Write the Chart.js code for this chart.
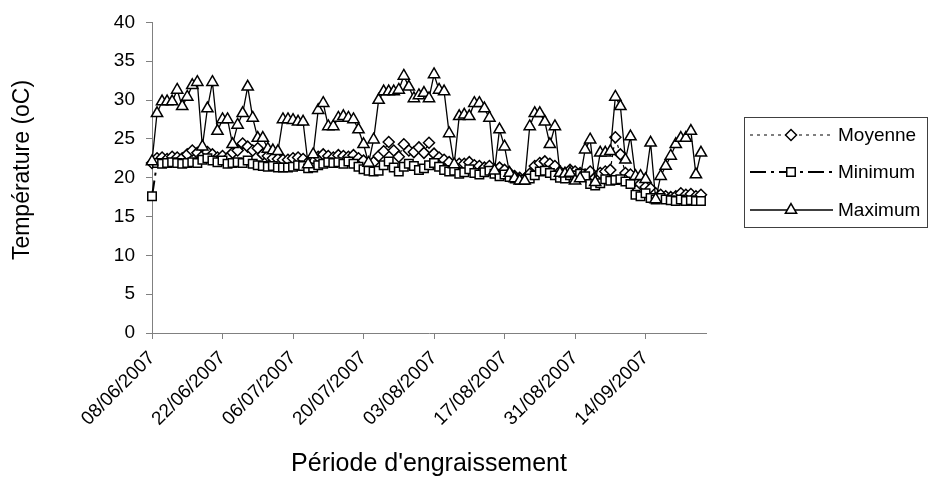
<!DOCTYPE html>
<html>
<head>
<meta charset="utf-8">
<title>Température - période d'engraissement</title>
<script src="https://cdn.jsdelivr.net/npm/chart.js@4.4.1/dist/chart.umd.min.js"></script>
<style>
    html, body { margin: 0; padding: 0; background: #ffffff; }
    #wrap { width: 930px; height: 479px; }
</style>
</head>
<body>
<div id="wrap"><canvas id="tempChart" width="930" height="479"></canvas></div>
<script>

// Days since 08/06/2007 on the x axis, tick every 14 days
const tickLabels = ["08/06/2007", "22/06/2007", "06/07/2007", "20/07/2007",
    "03/08/2007", "17/08/2007", "31/08/2007", "14/09/2007"];
const tickStep = 14;
const lastDay = 110;

const moyenne = [
    21.9, 22.5, 22.6, 22.4, 22.7, 22.6, 22.5, 23.0, 23.5, 23.2,
    22.8, 23.3, 23.0, 22.6, 22.8, 22.5, 23.2, 23.5, 24.4, 24.0,
    23.5, 23.8, 23.0, 22.8, 22.5, 22.4, 22.3, 22.3, 22.5, 22.6,
    22.4, 22.0, 22.3, 22.7, 23.0, 22.8, 22.6, 22.9, 22.8, 22.7,
    22.9, 22.5, 22.2, 21.6, 22.0, 22.8, 23.4, 24.6, 23.5, 22.7,
    24.3, 23.5, 23.3, 23.9, 23.2, 24.5, 23.1, 22.6, 22.3, 22.0,
    21.3, 21.8, 21.8, 22.0, 21.6, 21.5, 21.3, 21.5, 21.0, 21.3,
    21.0, 20.6, 20.2, 20.0, 19.9, 20.5, 21.5, 21.9, 22.1, 21.8,
    21.5, 20.8, 20.6, 21.0, 20.8, 20.6, 20.4, 20.8, 20.0, 20.6,
    20.8, 21.0, 25.2, 23.0, 20.6, 20.4, 19.6, 19.2, 18.8, 18.6,
    18.0, 17.8, 17.6, 17.5, 17.6, 18.0, 17.8, 17.9, 17.6, 17.8
];

const minimum = [
    17.6, 21.9, 21.8, 21.9, 22.0, 21.9, 21.8, 21.9, 22.0, 21.9,
    22.3, 22.5, 22.2, 22.0, 22.2, 21.8, 21.9, 22.0, 21.9, 22.2,
    21.8, 21.6, 21.5, 21.4, 21.5, 21.3, 21.3, 21.3, 21.4, 21.6,
    21.5, 21.2, 21.3, 21.6, 21.8, 22.0, 21.9, 22.0, 21.8, 22.1,
    21.8, 21.4, 21.1, 20.9, 20.8, 20.9, 21.6, 22.1, 21.3, 20.8,
    21.4, 21.8, 21.5, 21.0, 21.2, 21.6, 21.9, 21.4, 21.0, 20.8,
    20.9, 20.5, 20.7, 21.1, 20.6, 20.4, 20.7, 20.9, 20.5, 20.2,
    20.4, 20.1, 19.9, 19.7, 19.7, 19.9, 20.3, 20.8, 20.9, 20.6,
    20.3, 20.0, 19.9, 20.3, 20.3, 20.5, 20.2, 19.2, 19.0, 19.3,
    19.8, 19.6, 19.7, 19.8, 19.5, 19.2, 17.8, 17.6, 18.0, 17.4,
    17.2, 17.4, 17.2, 17.1, 17.0, 17.2, 17.0, 17.1, 17.0, 17.0
];

const maximum = [
    22.1, 28.3, 29.8, 29.8, 29.8, 31.3, 29.2, 30.4, 31.9, 32.3,
    24.0, 28.9, 32.3, 26.0, 27.5, 27.5, 24.3, 26.8, 28.3, 31.7,
    27.7, 25.1, 25.1, 23.7, 23.5, 23.4, 27.5, 27.5, 27.4, 27.2,
    27.2, 21.7, 23.0, 28.7, 29.6, 26.6, 26.6, 27.7, 27.9, 27.7,
    27.5, 26.2, 24.3, 21.9, 24.9, 30.0, 31.1, 31.1, 31.1, 31.3,
    33.1, 31.7, 30.2, 30.6, 30.9, 30.2, 33.3, 31.3, 31.1, 25.7,
    21.7, 27.9, 28.1, 27.9, 29.6, 29.6, 28.9, 27.7, 20.9, 26.2,
    24.0, 20.6, 19.9, 19.6, 19.6, 26.6, 28.3, 28.3, 27.2, 24.3,
    26.6, 20.6, 20.5, 20.6, 19.6, 19.9, 23.6, 24.9, 19.4, 23.2,
    23.2, 23.4, 30.4, 29.2, 22.3, 25.3, 20.2, 20.2, 19.8, 24.5,
    17.2, 20.2, 21.5, 22.8, 24.3, 25.1, 25.1, 26.0, 20.4, 23.2
];

const seriesNames = ["Moyenne", "Minimum", "Maximum"];

const fontFamily = "'Liberation Sans', Arial, sans-serif";
const axisGrey = "#808080";

function toPoints(values) {
    return values.map((v, i) => ({ x: i, y: v }));
}

function makeDataset(label, values, style) {
    return Object.assign({
        label: label,
        data: toPoints(values),
        borderColor: "#000000",
        backgroundColor: "#ffffff",
        pointBackgroundColor: "#ffffff",
        pointBorderColor: "#000000",
        pointBorderWidth: 1.5,
        pointHoverRadius: 6,
        tension: 0,
        fill: false,
        clip: false
    }, style);
}

const moyenneStyle = { borderWidth: 1.2, borderDash: [3, 4], pointStyle: "rectRot", pointRadius: 5.5, order: 3 };
const minimumStyle = { borderWidth: 2, borderDash: [16, 5, 3, 5], pointStyle: "rect", pointRadius: 6, order: 2 };
const maximumStyle = { borderWidth: 1.3, borderDash: [], pointStyle: "triangle", pointRadius: 6.5, order: 1 };

// Legend box on the right, drawn like the spreadsheet one
const boxLegend = {
    id: "boxLegend",
    afterDraw(chart) {
        const ctx = chart.ctx;
        const left = 744.5, top = 117.5, width = 183, height = 110;
        const rows = [135, 172, 210];

        ctx.save();
        ctx.strokeStyle = "#404040";
        ctx.lineWidth = 1;
        ctx.strokeRect(left, top, width, height);

        chart.data.datasets.forEach((ds, i) => {
            const y = rows[i];
            ctx.strokeStyle = "#000000";
            ctx.lineWidth = ds.borderWidth;
            ctx.setLineDash(ds.borderDash);
            ctx.beginPath();
            ctx.moveTo(750, y);
            ctx.lineTo(833, y);
            ctx.stroke();
            ctx.setLineDash([]);

            ctx.lineWidth = 1.5;
            ctx.fillStyle = "#ffffff";
            Chart.helpers.drawPoint(ctx, {
                pointStyle: ds.pointStyle,
                radius: ds.pointRadius,
                borderWidth: 1.5
            }, 791, y);

            ctx.fillStyle = "#000000";
            ctx.font = "19px " + fontFamily;
            ctx.textAlign = "left";
            ctx.textBaseline = "middle";
            ctx.fillText(ds.label, 838, y + 1);
        });

        // Y axis title
        ctx.translate(23, 170);
        ctx.rotate(-Math.PI / 2);
        ctx.font = "23px " + fontFamily;
        ctx.textAlign = "center";
        ctx.textBaseline = "middle";
        ctx.fillText("Température (oC)", 0, 0);
        ctx.restore();
    }
};

const ctx = document.getElementById("tempChart");

new Chart(ctx, {
    type: "line",
    data: {
        datasets: [
            makeDataset(seriesNames[0], moyenne, moyenneStyle),
            makeDataset(seriesNames[1], minimum, minimumStyle),
            makeDataset(seriesNames[2], maximum, maximumStyle)
        ]
    },
    options: {
        responsive: false,
        animation: false,
        layout: {
            padding: { top: 20, right: 224, bottom: 0, left: 0 }
        },
        plugins: {
            legend: { display: false },
            tooltip: { enabled: false }
        },
        scales: {
            x: {
                type: "linear",
                min: 0,
                max: lastDay,
                afterBuildTicks(scale) {
                    scale.ticks = tickLabels.map((t, i) => ({ value: i * tickStep }));
                },
                afterFit(scale) {
                    scale.height = 146;
                },
                ticks: {
                    autoSkip: false,
                    minRotation: 45,
                    maxRotation: 45,
                    padding: 8,
                    color: "#000000",
                    font: { family: fontFamily, size: 19 },
                    callback: function (value) {
                        return tickLabels[Math.round(value / tickStep)];
                    }
                },
                grid: {
                    display: true,
                    drawOnChartArea: false,
                    drawTicks: true,
                    tickLength: 6,
                    color: axisGrey
                },
                border: { display: true, color: axisGrey, width: 1 },
                title: {
                    display: true,
                    text: "Période d'engraissement",
                    color: "#000000",
                    font: { family: fontFamily, size: 25 },
                    padding: { top: 0, bottom: 0 }
                }
            },
            y: {
                min: 0,
                max: 40,
                afterFit(scale) {
                    scale.width = 152;
                },
                ticks: {
                    stepSize: 5,
                    padding: 11,
                    color: "#000000",
                    font: { family: fontFamily, size: 19 }
                },
                grid: {
                    display: true,
                    drawOnChartArea: false,
                    drawTicks: true,
                    tickLength: 6,
                    color: axisGrey
                },
                border: { display: true, color: axisGrey, width: 1 }
            }
        }
    },
    plugins: [boxLegend]
});
</script>
</body>
</html>
